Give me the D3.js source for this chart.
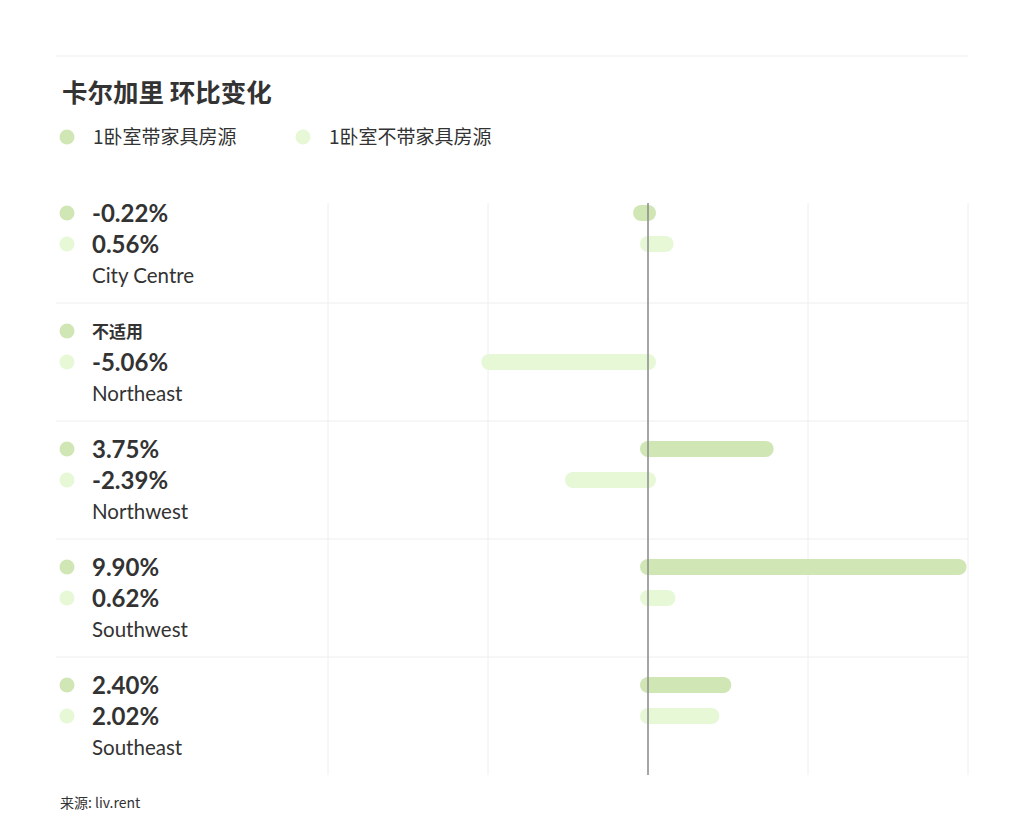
<!DOCTYPE html>
<html>
<head>
<meta charset="utf-8">
<script src="https://cdn.jsdelivr.net/npm/d3@7"></script>
<style>
  html, body { margin: 0; padding: 0; background: #fff; }
  svg { display: block; font-family: Lato, "Noto Sans CJK SC", sans-serif; }
</style>
</head>
<body>
<svg id="chart" width="1024" height="836"></svg>
<script>
const title = "卡尔加里 环比变化";
const seriesNames = ["1卧室带家具房源", "1卧室不带家具房源"];
const seriesColors = ["#d0e6b4", "#e6f8d6"];
const regions = ["City Centre", "Northeast", "Northwest", "Southwest", "Southeast"];
const furnished = [-0.22, null, 3.75, 9.90, 2.40];
const unfurnished = [0.56, -5.06, -2.39, 0.62, 2.02];
const naLabel = "不适用";
const source = "来源: liv.rent";

const svg = d3.select("#chart");
const textColor = "#333";
const cjk = "'Noto Sans CJK SC', Lato, sans-serif";

// top rule
svg.append("line").attr("x1", 56).attr("x2", 968).attr("y1", 56).attr("y2", 56)
  .attr("stroke", "#eeeeee").attr("stroke-width", 1);

// title
svg.append("text").attr("x", 62).attr("y", 102).text(title)
  .attr("font-family", cjk).attr("font-weight", 700).attr("font-size", 25.5).attr("fill", textColor);

// legend
const legendX = [67, 303];
seriesNames.forEach((n, i) => {
  svg.append("circle").attr("cx", legendX[i]).attr("cy", 137).attr("r", 7.5).attr("fill", seriesColors[i]);
  svg.append("text").attr("x", legendX[i] + 26).attr("y", 143.5).text(n)
    .attr("font-family", cjk).attr("font-size", 19).attr("fill", textColor);
});

// scales
const x = d3.scaleLinear().domain([-10.2, 10.2]).range([328, 968]);
const rowTop = 185, rowH = 118;
const y = d3.scaleBand().domain(regions).range([rowTop, rowTop + rowH * regions.length]).padding(0);
const gridTop = 203, gridBottom = rowTop + rowH * regions.length;

// vertical grid lines (5 evenly spaced)
const gridVals = d3.range(5).map(i => -10.2 + i * 5.1);
svg.append("g").selectAll("line").data(gridVals).join("line")
  .attr("x1", d => x(d)).attr("x2", d => x(d))
  .attr("y1", gridTop).attr("y2", gridBottom)
  .attr("stroke", "#eeeeee").attr("stroke-width", 1);

// row separators
svg.append("g").selectAll("line").data(regions.slice(1)).join("line")
  .attr("x1", 56).attr("x2", 968)
  .attr("y1", d => y(d)).attr("y2", d => y(d))
  .attr("stroke", "#eeeeee").attr("stroke-width", 1);

// bars
const series = [furnished, unfurnished];
const lineOffsets = [28, 59];
const barG = svg.append("g");
series.forEach((vals, si) => {
  barG.selectAll(null).data(regions.map((r, i) => ({ r, v: vals[i] })).filter(d => d.v !== null))
    .join("line")
    .attr("x1", x(0)).attr("x2", d => x(d.v))
    .attr("y1", d => y(d.r) + lineOffsets[si]).attr("y2", d => y(d.r) + lineOffsets[si])
    .attr("stroke", seriesColors[si]).attr("stroke-width", 16).attr("stroke-linecap", "round");
});

// zero line
svg.append("line").attr("x1", x(0)).attr("x2", x(0)).attr("y1", gridTop).attr("y2", gridBottom)
  .attr("stroke", "#8a8a8a").attr("stroke-width", 1.5);

// row labels
const fmt = v => v.toFixed(2) + "%";
regions.forEach((r, i) => {
  const top = y(r);
  series.forEach((vals, si) => {
    const cy = top + lineOffsets[si];
    svg.append("circle").attr("cx", 67).attr("cy", cy).attr("r", 7.5).attr("fill", seriesColors[si]);
    const v = vals[i];
    if (v === null) {
      svg.append("text").attr("x", 92).attr("y", cy + 6.5).text(naLabel)
        .attr("font-family", cjk).attr("font-weight", 700).attr("font-size", 17).attr("fill", textColor);
    } else {
      svg.append("text").attr("x", 92).attr("y", cy + 8.5).text(fmt(v))
        .attr("font-weight", 700).attr("font-size", 24).attr("fill", textColor);
    }
  });
  svg.append("text").attr("x", 92).attr("y", top + 97.5).text(r)
    .attr("font-size", 20.5).attr("fill", textColor);
});

// source
svg.append("text").attr("x", 60).attr("y", 808).text(source)
  .attr("font-family", cjk).attr("font-size", 14).attr("fill", textColor);
</script>
</body>
</html>
